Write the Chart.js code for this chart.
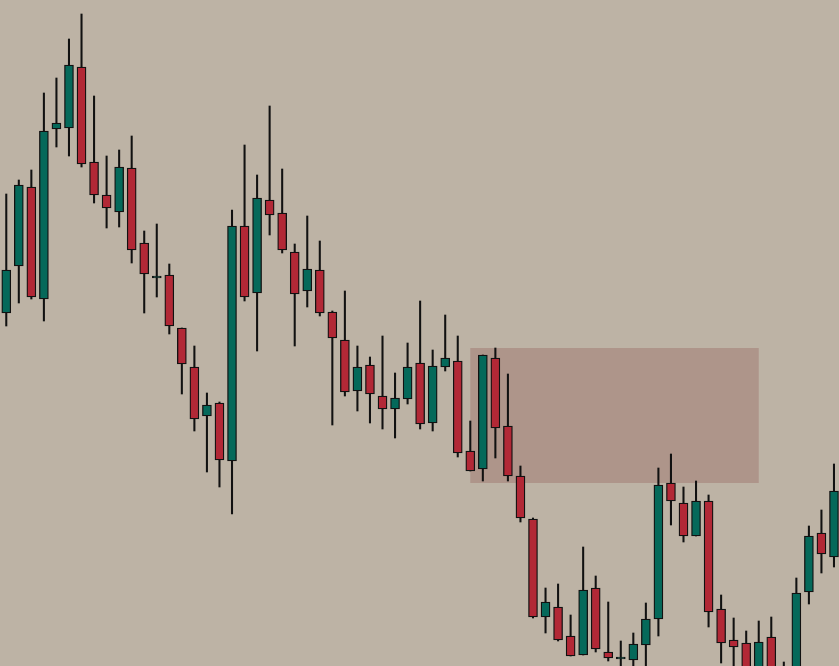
<!DOCTYPE html>
<html>
<head>
<meta charset="utf-8">
<script src="https://cdn.jsdelivr.net/npm/chart.js@4"></script>
<style>
  html, body { margin: 0; padding: 0; background: #bdb3a5; }
  #wrap { width: 839px; height: 666px; }
</style>
</head>
<body>
<div id="wrap"><canvas id="grafico"></canvas></div>
<script>
// Valores das velas (abertura, máxima, mínima, fechamento)
const abertura = [353,400,479,367,537,538,599,504,471,454,
                  498,423,388,391,338,299,250,263,205,440,
                  373,466,453,414,375,396,354,326,275,301,
                  270,257,267,303,243,299,305,215,197,308,
                  240,190,147,49,59,30,11,78,14,7,
                  6,21,47,183,163,130,165,57,26,23,
                  -24,29,-24,-34,74,133,109];
const maxima =   [472,486,496,573,588,627,652,570,510,516,
                  530,435,442,402,338,320,273,264,456,521,
                  491,560,497,422,450,425,355,375,320,309,
                  330,293,323,365,316,351,330,245,311,318,
                  292,200,148,78,82,51,119,90,64,25,
                  33,63,198,212,179,185,171,71,48,35,
                  45,49,4,88,140,156,202];
const minima =   [340,363,367,345,519,510,499,463,438,439,
                  403,353,369,332,272,235,194,179,152,365,
                  315,431,413,320,359,350,241,270,255,243,
                  237,228,262,237,235,295,209,195,185,208,
                  185,144,48,33,25,10,11,14,5,-6,
                  -9,-14,30,141,124,130,39,3,-14,-34,
                  -34,-34,-54,-54,62,93,99];
const fechamento = [396,481,369,535,543,601,502,471,458,499,
                  416,392,390,340,302,247,261,206,440,369,
                  468,451,416,372,397,353,328,274,299,272,
                  257,268,299,242,300,308,213,195,311,238,
                  190,148,49,64,26,10,76,17,8,9,
                  22,47,181,165,130,165,54,23,19,-19,
                  24,-14,-34,73,130,112,175];

// Zona de oferta (índices das velas e preços)
const zonaInicio = 37;
const zonaFim = 60;
const zonaTopo = 318;
const zonaBase = 183;

const corAlta = "#05695a";
const corBaixa = "#b22836";
const corContorno = "#111111";

const corpos = abertura.map((a, i) => ({ x: i, y: [a, fechamento[i]] }));
const pavios = maxima.map((m, i) => ({ x: i, y: [minima[i], m] }));
const cores = abertura.map((a, i) => fechamento[i] >= a ? corAlta : corBaixa);

// Plugin para desenhar a zona retangular atrás das velas
const pluginZona = {
    id: 'zona',
    beforeDatasetsDraw(chart) {
        const { ctx, scales: { x, y } } = chart;
        const x1 = x.getPixelForValue(zonaInicio);
        const x2 = x.getPixelForValue(zonaFim);
        const y1 = y.getPixelForValue(zonaTopo);
        const y2 = y.getPixelForValue(zonaBase);
        ctx.save();
        ctx.fillStyle = "#ae958a";
        ctx.fillRect(x1, y1, x2 - x1, y2 - y1);
        ctx.restore();
    }
};

new Chart(document.getElementById("grafico"), {
    type: 'bar',
    data: {
        datasets: [
            {
                data: corpos,
                backgroundColor: cores,
                borderColor: corContorno,
                borderWidth: 1.3,
                borderSkipped: false,
                barThickness: 9,
                grouped: false,
                order: 0
            },
            {
                data: pavios,
                backgroundColor: corContorno,
                borderWidth: 0,
                barThickness: 1.4,
                grouped: false,
                order: 1
            }
        ]
    },
    options: {
        responsive: true,
        maintainAspectRatio: false,
        animation: false,
        layout: { padding: 0 },
        scales: {
            x: { type: 'linear', min: -0.5, max: 66.4, offset: false, display: false },
            y: { min: 0, max: 666, display: false }
        },
        plugins: {
            legend: { display: false },
            tooltip: { enabled: false }
        }
    },
    plugins: [pluginZona]
});
</script>
</body>
</html>
